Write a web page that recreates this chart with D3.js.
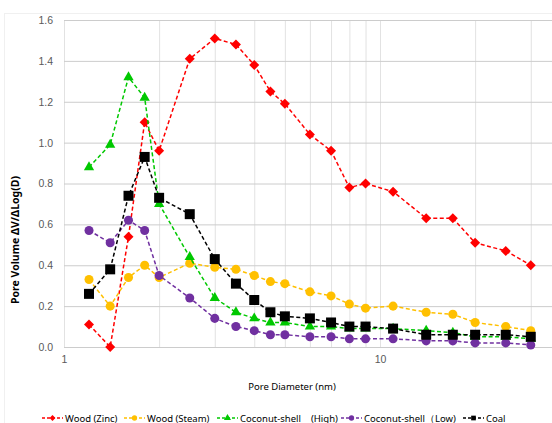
<!DOCTYPE html>
<html>
<head>
<meta charset="utf-8">
<script src="https://cdn.jsdelivr.net/npm/d3@7"></script>
<style>
  body { margin: 0; background: #fff; }
  svg { display: block; font-family: "Noto Sans", "Open Sans", sans-serif; }
  .axis path { display: none; }
  .axis text { fill: #595959; font-size: 10.5px; }
</style>
</head>
<body>
<div id="chart"></div>
<script>
// pore diameter (nm), same for all series
var diameters = [1.2, 1.4, 1.6, 1.8, 2.0, 2.5, 3.0, 3.5, 4.0, 4.5, 5.0, 6, 7, 8, 9, 11, 14, 17, 20, 25, 30];

var woodZinc = [0.11, 0.00, 0.54, 1.10, 0.96, 1.41, 1.51, 1.48, 1.38, 1.25, 1.19, 1.04, 0.96, 0.78, 0.80, 0.76, 0.63, 0.63, 0.51, 0.47, 0.40];
var woodSteam = [0.33, 0.20, 0.34, 0.40, 0.34, 0.41, 0.39, 0.38, 0.35, 0.32, 0.31, 0.27, 0.25, 0.21, 0.19, 0.20, 0.17, 0.16, 0.12, 0.10, 0.08];
var coconutHigh = [0.88, 0.99, 1.32, 1.22, 0.70, 0.44, 0.24, 0.17, 0.14, 0.12, 0.12, 0.10, 0.10, 0.09, 0.09, 0.09, 0.08, 0.07, 0.05, 0.05, 0.04];
var coconutLow = [0.57, 0.51, 0.62, 0.57, 0.35, 0.24, 0.14, 0.10, 0.08, 0.06, 0.06, 0.05, 0.05, 0.04, 0.04, 0.04, 0.03, 0.03, 0.02, 0.02, 0.01];
var coal = [0.26, 0.38, 0.74, 0.93, 0.73, 0.65, 0.43, 0.31, 0.23, 0.17, 0.15, 0.14, 0.12, 0.10, 0.10, 0.09, 0.06, 0.06, 0.06, 0.06, 0.05];

var seriesNames = ["Wood (Zinc)", "Wood (Steam)", "Coconut-shell\u3000(High)", "Coconut-shell\uff08Low)", "Coal"];
var seriesColors = ["#ff0000", "#ffc000", "#00c800", "#7030a0", "#000000"];
var seriesMarkers = ["diamond", "circle", "triangle", "circle", "square"];

var yTicks = [0, 0.2, 0.4, 0.6, 0.8, 1.0, 1.2, 1.4, 1.6];
var xGrid = [1, 2, 3, 4, 5, 6, 7, 8, 9, 10, 20, 30, 40];
var xLabels = [1, 10];

var allSeries = [woodZinc, woodSteam, coconutHigh, coconutLow, coal];

var width = 552, height = 423;
var margin = { top: 20, left: 64, bottom: 76 };
var plotH = height - margin.top - margin.bottom; // 327
var plotW = width - margin.left;

var svg = d3.select("#chart").append("svg")
  .attr("width", width)
  .attr("height", height);

// faint chart border
svg.append("rect")
  .attr("x", 4.5).attr("y", 13.5)
  .attr("width", 560).attr("height", 420)
  .attr("fill", "none")
  .attr("stroke", "#f0f0f0");

var x = d3.scaleLog()
  .domain([1, 100])
  .range([0, 632]);

var y = d3.scaleLinear()
  .domain([0, 1.6])
  .range([plotH, 0]);

var g = svg.append("g")
  .attr("transform", "translate(" + margin.left + "," + margin.top + ")");

// vertical grid + x labels
var xAxis = g.append("g")
  .attr("class", "axis")
  .attr("transform", "translate(0," + plotH + ")")
  .call(d3.axisBottom(x)
    .tickValues(xGrid)
    .tickSize(-plotH)
    .tickPadding(9)
    .tickFormat(function(d) { return xLabels.indexOf(d) >= 0 ? d : ""; }));
xAxis.selectAll("line").attr("stroke", "#e2e2e2");

// horizontal grid + y labels
var yAxis = g.append("g")
  .attr("class", "axis")
  .call(d3.axisLeft(y)
    .tickValues(yTicks)
    .tickSize(-plotW)
    .tickPadding(11)
    .tickFormat(d3.format(".1f")));
yAxis.selectAll("line").attr("stroke", "#cccccc");

// axis titles
svg.append("text")
  .attr("transform", "translate(19,240) rotate(-90)")
  .attr("text-anchor", "middle")
  .attr("font-size", "10.5px")
  .attr("font-weight", "bold")
  .attr("fill", "#000")
  .text("Pore Volume \u0394V/\u0394Log(D)");

svg.append("text")
  .attr("x", 292)
  .attr("y", 390)
  .attr("text-anchor", "middle")
  .attr("font-size", "9.5px")
  .attr("fill", "#000")
  .text("Pore Diameter (nm)");

function symbolType(type) {
  if (type == "diamond") return d3.symbolDiamond2;
  if (type == "circle") return d3.symbolCircle;
  if (type == "triangle") return d3.symbolTriangle;
  return d3.symbolSquare;
}
var markerSize = { diamond: 64, circle: 64, triangle: 46, square: 100 };

var line = d3.line()
  .x(function(d, i) { return x(diameters[i]); })
  .y(function(d) { return y(d); });

allSeries.forEach(function(vals, s) {
  var sg = g.append("g");
  sg.append("path")
    .attr("d", line(vals))
    .attr("fill", "none")
    .attr("stroke", seriesColors[s])
    .attr("stroke-width", 1.5)
    .attr("stroke-dasharray", "4,2.5");
  sg.selectAll("path.m")
    .data(vals)
    .enter().append("path")
    .attr("class", "m")
    .attr("d", d3.symbol().type(symbolType(seriesMarkers[s])).size(markerSize[seriesMarkers[s]])())
    .attr("transform", function(d, i) {
      return "translate(" + x(diameters[i]) + "," + y(d) + ")";
    })
    .attr("fill", seriesColors[s]);
});

// legend
var legendX = [42, 124, 217, 341, 463];
var lg = svg.append("g").attr("transform", "translate(0,418)");
seriesNames.forEach(function(name, s) {
  var item = lg.append("g").attr("transform", "translate(" + legendX[s] + ",0)");
  item.append("line")
    .attr("x1", 0).attr("x2", 21)
    .attr("stroke", seriesColors[s])
    .attr("stroke-width", 1.5)
    .attr("stroke-dasharray", "3,2");
  item.append("path")
    .attr("d", d3.symbol().type(symbolType(seriesMarkers[s])).size(22)())
    .attr("transform", "translate(10.5,0)")
    .attr("fill", seriesColors[s]);
  item.append("text")
    .attr("x", 23)
    .attr("y", 3.5)
    .attr("font-size", "9.5px")
    .attr("fill", "#000")
    .text(name);
});
</script>
</body>
</html>
